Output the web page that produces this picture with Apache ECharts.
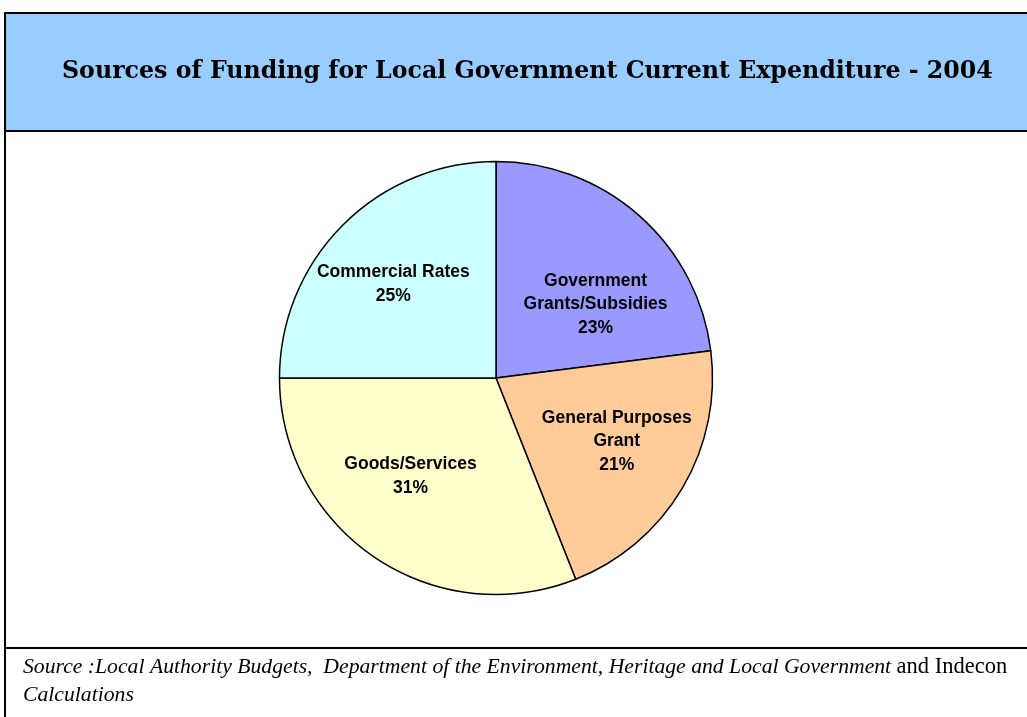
<!DOCTYPE html>
<html>
<head>
<meta charset="utf-8">
<script src="https://cdn.jsdelivr.net/npm/echarts@6/dist/echarts.min.js"></script>
<style>
  html, body { margin: 0; padding: 0; background: #fff; }
  #chart { width: 1027px; height: 717px; }
</style>
</head>
<body>
<div id="chart"></div>
<script>
// Funding sources, clockwise from 12 o'clock
const categories = ['Government\nGrants/Subsidies', 'General Purposes\nGrant', 'Goods/Services', 'Commercial Rates'];
const shares = [23, 21, 31, 25];
const colors = ['#9999FF', '#FFCC99', '#FFFFCC', '#CCFFFF'];
// nudges of each label away from the default inside spot
const labelNudges = [[26, 10], [25, 7], [-23, 6], [-24, -15]];

const chart = echarts.init(document.getElementById('chart'), null, { renderer: 'canvas' });

const data = categories.map((name, i) => ({
  name: name,
  value: shares[i],
  itemStyle: { color: colors[i] },
  label: { offset: labelNudges[i] }
}));

chart.setOption({
  animation: false,
  backgroundColor: '#ffffff',
  graphic: [
    // header band
    { type: 'rect', z: -1, shape: { x: 5, y: 13, width: 1050, height: 118 },
      style: { fill: '#99CCFF', stroke: '#000', lineWidth: 2 } },
    // chart frame
    { type: 'rect', z: -1, shape: { x: 5, y: 131, width: 1050, height: 517 },
      style: { fill: '#ffffff', stroke: '#000', lineWidth: 2 } },
    // source note frame
    { type: 'rect', z: -1, shape: { x: 5, y: 648, width: 1050, height: 80 },
      style: { fill: '#ffffff', stroke: '#000', lineWidth: 2 } },
    { type: 'text', left: 23, top: 656, z: 5,
      style: {
        text: '{a|Source :Local Authority Budgets,  Department of the Environment, Heritage and Local Government }{b|and Indecon}\n{a|Calculations}',
        rich: {
          a: { fontFamily: 'Liberation Serif', fontStyle: 'italic', fontSize: 21.7, lineHeight: 28, fill: '#000' },
          b: { fontFamily: 'Liberation Serif', fontStyle: 'normal', fontSize: 22.5, lineHeight: 28, fill: '#000' }
        }
      } }
  ],
  title: {
    text: 'Sources of Funding for Local Government Current Expenditure - 2004',
    left: 57,
    top: 55,
    textStyle: { fontFamily: 'DejaVu Serif', fontWeight: 'bold', fontSize: 23.7, color: '#000' }
  },
  series: [{
    type: 'pie',
    center: [496, 378],
    radius: [0, 216.5],
    startAngle: 90,
    clockwise: true,
    silent: true,
    data: data,
    itemStyle: { borderColor: '#000', borderWidth: 1.5 },
    label: {
      position: 'inside',
      formatter: p => p.name + '\n' + p.value + '%',
      fontFamily: 'Liberation Sans',
      fontWeight: 'bold',
      fontSize: 17.5,
      lineHeight: 23.5,
      color: '#000',
      align: 'center'
    },
    labelLine: { show: false }
  }]
});
</script>
</body>
</html>
